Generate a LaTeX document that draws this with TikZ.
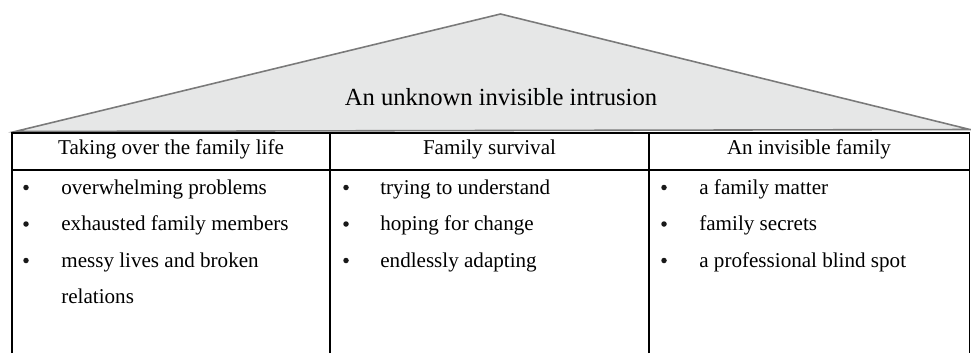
\documentclass[tikz,border=0pt]{standalone}
\usepackage{fontspec}
\setmainfont{Liberation Serif}
\definecolor{roofgray}{HTML}{E6E7E7}
\definecolor{roofline}{HTML}{7A7A7A}
\tikzset{
  entry/.style={anchor=base west, inner sep=0pt, font=\fontsize{12}{14}\selectfont},
  dot/.style={circle, fill=black!90, inner sep=0pt, minimum size=0.11cm},
  head/.style={anchor=base, inner sep=0pt, font=\fontsize{12}{14}\selectfont},
  rule/.style={line width=0.7pt},
}
\begin{document}
\begin{tikzpicture}
    \useasboundingbox (0,0) rectangle (19.42,7.06);
    % Roof:
    % a flat gray triangle on top of the table
    \draw[roofline, fill=roofgray, line width=0.9pt] (0.30,4.43) -- (10.01,6.78) -- (19.40,4.47) -- cycle;
    \node[anchor=base, inner sep=0pt, font=\fontsize{14}{16}\selectfont] (T) at (10.02,4.96) {An unknown invisible intrusion};

    % Table:
    % outer frame is left open at the bottom
    \draw[rule] (0.24,0) -- (0.24,4.40) -- (19.39,4.40) -- (19.39,0);
    \foreach \x in {6.60,12.98}{%
        \draw[rule] (\x,0) -- (\x,4.40);
    }
    \draw[line width=1.1pt] (0.24,3.66) -- (19.39,3.66);

    % Column heads
    \node[head] (H1) at (3.42,3.97) {Taking over the family life};
    \node[head] (H2) at (9.79,3.97) {Family survival};
    \node[head] (H3) at (16.18,3.97) {An invisible family};

    % Bullet lists
    \foreach \y/\t [count=\i] in {3.18/overwhelming problems, 2.45/exhausted family members, 1.72/messy lives and broken}{%
        \node[dot] (A\i) at (0.52,{\y+0.13}) {};
        \node[entry] (L\i) at (1.22,\y) {\t};
    }
    \node[entry] (L4) at (1.22,0.99) {relations};

    \foreach \y/\t [count=\i] in {3.18/trying to understand, 2.45/hoping for change, 1.72/endlessly adapting}{%
        \node[dot] (B\i) at (6.92,{\y+0.13}) {};
        \node[entry] (M\i) at (7.60,\y) {\t};
    }

    \foreach \y/\t [count=\i] in {3.18/a family matter, 2.45/family secrets, 1.72/a professional blind spot}{%
        \node[dot] (C\i) at (13.28,{\y+0.13}) {};
        \node[entry] (R\i) at (13.98,\y) {\t};
    }
\end{tikzpicture}
\end{document}
